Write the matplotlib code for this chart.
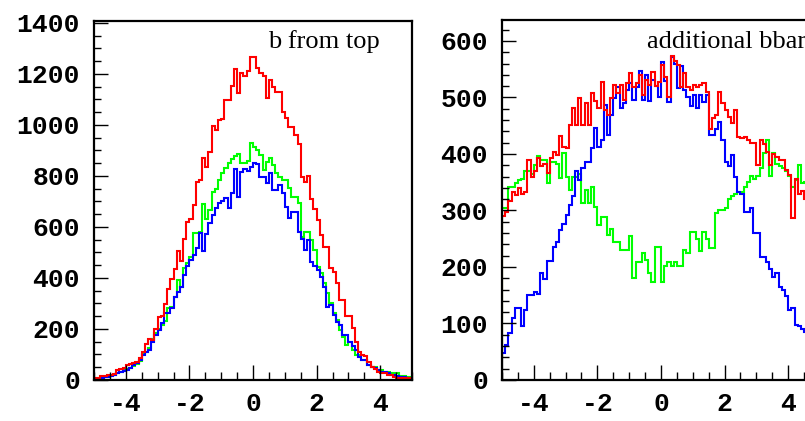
import numpy as np
import matplotlib
matplotlib.use("Agg")
import matplotlib.pyplot as plt
from matplotlib.ticker import MultipleLocator

plt.rcParams['axes.unicode_minus'] = False

# 100 bins from -5 to 5
bin_edges = np.linspace(-5, 5, 101)

# left panel: "b from top"
top_red = [8, 8, 14, 16, 20, 20, 22, 38, 42, 48, 58, 62, 66, 72, 85, 111, 141, 160, 158, 199,
           246, 251, 297, 356, 397, 437, 505, 468, 554, 621, 631, 686, 775, 784, 870, 837, 892, 996, 980, 1020,
           1023, 1098, 1098, 1153, 1218, 1127, 1203, 1192, 1210, 1268,
           1268, 1222, 1202, 1190, 1107, 1176, 1150, 1129, 1129, 1052, 1026, 991, 991, 961, 925, 797, 777, 801, 708, 669,
           627, 568, 523, 523, 438, 425, 379, 314, 314, 249, 249, 203, 150, 111, 98, 94, 72, 52, 42, 33,
           29, 26, 20, 20, 13, 9, 9, 8, 7, 6]
top_green = [4, 6, 8, 10, 12, 16, 20, 26, 30, 38, 44, 48, 56, 64, 76, 100, 108, 126, 160, 183,
             200, 216, 230, 284, 288, 324, 392, 366, 438, 457, 484, 578, 575, 580, 690, 630, 667, 739, 748, 784,
             813, 833, 850, 867, 880, 885, 850, 850, 860, 931,
             915, 902, 882, 823, 856, 869, 843, 810, 797, 784, 784, 752, 719, 719, 693, 562, 582, 582, 549, 510,
             444, 418, 379, 340, 301, 261, 235, 196, 170, 137, 150, 118, 98, 98, 78, 78, 59, 52, 52, 39,
             39, 33, 33, 26, 26, 26, 17, 15, 12, 10]
top_blue = [3, 5, 8, 10, 13, 17, 21, 26, 30, 35, 40, 48, 59, 66, 78, 98, 110, 118, 150, 175,
            196, 222, 261, 261, 281, 327, 346, 366, 412, 447, 470, 490, 516, 575, 506, 572, 614, 647, 673, 693,
            700, 712, 673, 732, 827, 719, 816, 827, 820, 836,
            850, 845, 797, 797, 771, 810, 745, 745, 765, 732, 680, 634, 660, 660, 582, 552, 510, 549, 464, 448,
            431, 405, 366, 288, 294, 255, 229, 216, 176, 176, 150, 133, 118, 92, 78, 78, 59, 52, 46, 40,
            33, 30, 26, 20, 18, 15, 12, 10, 8, 6]

# right panel: "additional bbar"
add_red = [290, 298, 316, 333, 327, 339, 330, 333, 389, 360, 369, 392, 378, 383, 366, 392, 404, 398, 431, 413,
           410, 451, 481, 451, 499, 451, 490, 451, 507, 493, 481, 528, 478, 469, 499, 522, 507, 522, 496, 525,
           543, 519, 525, 540, 504, 531, 522, 545, 520, 528,
           557, 537, 501, 573, 565, 557, 519, 543, 519, 513, 522, 519, 522, 526, 510, 445, 463, 469, 510, 490,
           478, 466, 455, 478, 430, 428, 430, 425, 419, 420, 381, 425, 418, 404, 380, 400, 395, 389, 390, 372,
           363, 286, 355, 330, 335, 320, 300, 310, 290, 280]
add_green = [305, 305, 342, 342, 348, 354, 356, 369, 369, 365, 380, 396, 389, 389, 348, 386, 386, 383, 357, 401,
             360, 336, 360, 360, 365, 313, 336, 313, 342, 307, 274, 289, 289, 257, 268, 245, 245, 230, 230, 230,
             254, 180, 209, 209, 224, 213, 189, 174, 236, 236,
             174, 201, 209, 201, 209, 201, 201, 230, 224, 262, 262, 250, 228, 262, 250, 234, 234, 296, 301, 301,
             305, 320, 325, 329, 333, 333, 342, 350, 361, 355, 361, 375, 401, 425, 361, 401, 383, 378, 375, 369,
             361, 342, 354, 380, 348, 350, 360, 340, 330, 320]
add_blue = [47, 62, 84, 109, 127, 127, 96, 124, 150, 150, 156, 153, 189, 178, 211, 211, 236, 244, 265, 276,
            292, 310, 326, 369, 354, 375, 385, 385, 410, 446, 413, 425, 487, 434, 469, 499, 519, 481, 490, 513,
            525, 496, 519, 546, 496, 540, 494, 531, 520, 501,
            563, 530, 492, 572, 560, 516, 555, 513, 501, 484, 504, 481, 504, 492, 504, 434, 434, 445, 457, 425,
            386, 378, 398, 360, 333, 330, 298, 298, 304, 260, 260, 218, 218, 208, 196, 183, 189, 165, 160, 148,
            124, 127, 97, 95, 90, 85, 80, 75, 70, 65]

label_font = dict(family='Liberation Mono', weight='bold', size=19)

fig = plt.figure(figsize=(8.05, 4.21), dpi=100)


def style_axis(ax, ymax, ymajor, yminor):
    ax.set_xlim(-5, 5)
    ax.set_ylim(0, ymax)
    ax.xaxis.set_major_locator(MultipleLocator(2))
    ax.xaxis.set_minor_locator(MultipleLocator(0.5))
    ax.yaxis.set_major_locator(MultipleLocator(ymajor))
    ax.yaxis.set_minor_locator(MultipleLocator(yminor))
    ax.tick_params(which='both', direction='in', top=False, right=False, width=1.0, color='black')
    ax.tick_params(axis='x', which='major', length=11, pad=9)
    ax.tick_params(axis='x', which='minor', length=5.5)
    ax.tick_params(axis='y', which='major', length=10, pad=10)
    ax.tick_params(axis='y', which='minor', length=5)
    for lab in ax.get_xticklabels() + ax.get_yticklabels():
        lab.set_fontproperties(matplotlib.font_manager.FontProperties(**label_font))
    for sp in ax.spines.values():
        sp.set_linewidth(1.6)


ax1 = fig.add_axes([0.1168, 0.0974, 0.395, 0.853])
ax1.stairs(top_green, bin_edges, color='#00ff00', lw=1.5)
ax1.stairs(top_blue, bin_edges, color='#0000ff', lw=1.5)
ax1.stairs(top_red, bin_edges, color='#ff0000', lw=1.5)
style_axis(ax1, 1408, 200, 50)
ax1.text(0.547, 0.925, 'b from top', transform=ax1.transAxes, ha='left', va='baseline',
         family='Liberation Serif', size=19)

ax2 = fig.add_axes([0.6236, 0.0974, 0.395, 0.855])
ax2.stairs(add_green, bin_edges, color='#00ff00', lw=1.5)
ax2.stairs(add_blue, bin_edges, color='#0000ff', lw=1.5)
ax2.stairs(add_red, bin_edges, color='#ff0000', lw=1.5)
style_axis(ax2, 637, 100, 20)
ax2.text(0.456, 0.922, 'additional bbar', transform=ax2.transAxes, ha='left', va='baseline',
         family='Liberation Serif', size=19)

fig.savefig('out.png', dpi=100)
